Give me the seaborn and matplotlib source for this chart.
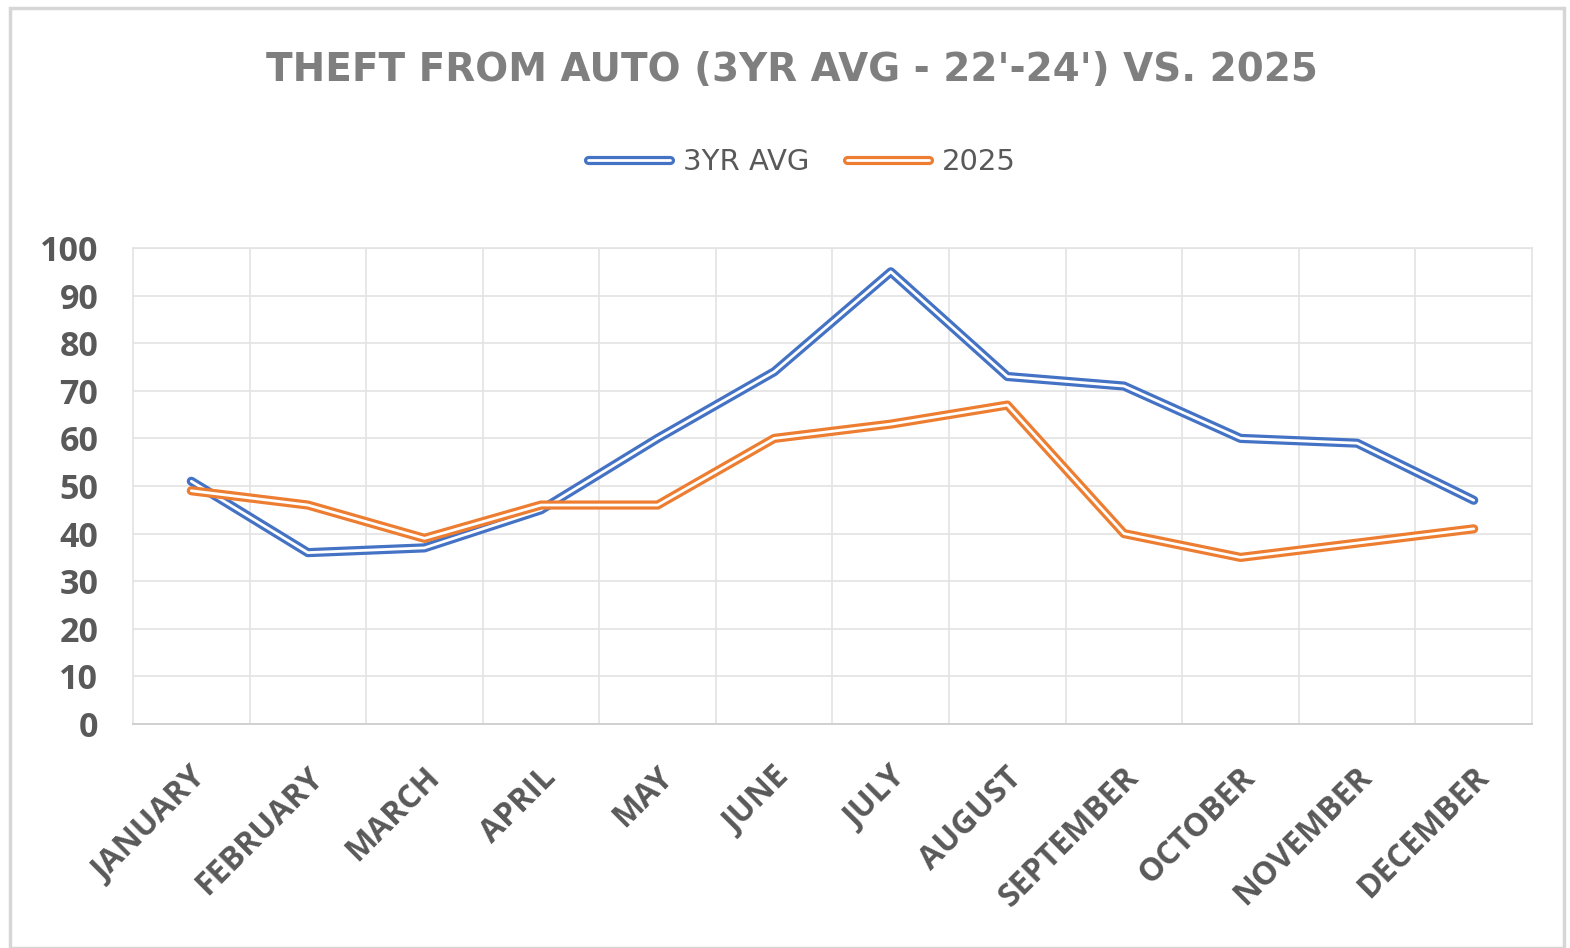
import matplotlib
matplotlib.use("Agg")
import matplotlib.pyplot as plt
import matplotlib.patheffects as pe
import matplotlib.patches as mpatches
import matplotlib.transforms as mtransforms
import seaborn as sns
import pandas as pd
import numpy as np

months = ["JANUARY", "FEBRUARY", "MARCH", "APRIL", "MAY", "JUNE", "JULY",
          "AUGUST", "SEPTEMBER", "OCTOBER", "NOVEMBER", "DECEMBER"]
avg_3yr = [51, 36, 37, 45, 60, 74, 95, 73, 71, 60, 59, 47]
y2025 = [49, 46, 39, 46, 46, 60, 63, 67, 40, 35, 38, 41]
series_names = ["3YR AVG", "2025"]
colors = {"3YR AVG": "#4472C4", "2025": "#ED7D31"}
yticks = [0, 10, 20, 30, 40, 50, 60, 70, 80, 90, 100]
title = "THEFT FROM AUTO (3YR AVG - 22'-24') VS. 2025"

df = pd.DataFrame({
    "month": months * 2,
    "idx": list(range(12)) * 2,
    "value": avg_3yr + y2025,
    "series": [series_names[0]] * 12 + [series_names[1]] * 12,
})

sns.set_theme(style="white")
plt.rcParams["font.family"] = ["Open Sans", "DejaVu Sans"]

W, H = 1570, 948
fig = plt.figure(figsize=(W / 100, H / 100), dpi=100)
ax = fig.add_axes([133 / W, 1 - 724 / H, (1532 - 133) / W, (724 - 248) / H])

for name in series_names:
    sub = df[df["series"] == name]
    sns.lineplot(data=sub, x="idx", y="value", ax=ax, color="white",
                 linewidth=2.0, label=name, sort=False,
                 path_effects=[pe.Stroke(linewidth=6.6, foreground=colors[name]), pe.Normal()])

ax.set_xlim(-0.5, 11.5)
ax.set_ylim(0, 100)
ax.set_yticks(yticks)
ax.set_xticks(range(12))
ax.set_xticklabels(months)
ax.set_xticks(np.arange(0.5, 11.5, 1), minor=True)
ax.grid(False)
ax.yaxis.grid(True, color="#e3e3e3", linewidth=1.2)
ax.xaxis.grid(True, which="minor", color="#e3e3e3", linewidth=1.2)
ax.set_axisbelow(True)
for s in ["top", "right", "left"]:
    ax.spines[s].set_color("#e3e3e3")
    ax.spines[s].set_linewidth(1.2)
ax.spines["bottom"].set_color("#d0d0d0")
ax.spines["bottom"].set_linewidth(1.4)
ax.set_xlabel("")
ax.set_ylabel("")

ax.tick_params(axis="y", length=0, pad=25, labelsize=24.5, labelcolor="#595959")
ax.tick_params(axis="x", which="both", length=0, pad=35, labelsize=23, labelcolor="#595959")
offset = mtransforms.ScaledTranslation(10 / 100, 0, fig.dpi_scale_trans)
for lab in ax.get_yticklabels():
    lab.set_fontweight("bold")
for lab in ax.get_xticklabels():
    lab.set_fontweight("bold")
    lab.set_rotation(45)
    lab.set_ha("right")
    lab.set_va("center")
    lab.set_rotation_mode("anchor")
    lab.set_transform(lab.get_transform() + offset)

ax.legend_.remove()
handles, labels = ax.get_legend_handles_labels()
leg = fig.legend(handles, labels, loc="center", bbox_to_anchor=(802 / W, 1 - 162 / H),
                 ncol=2, frameon=False, prop={"family": "DejaVu Sans", "size": 21},
                 handlelength=2.8, columnspacing=1.3, handletextpad=0.45)
for t in leg.get_texts():
    t.set_color("#595959")

fig.text(792 / W, 1 - 70 / H, title, ha="center", va="center",
         fontsize=28, fontweight="bold", color="#7f7f7f", family="DejaVu Sans")

fig.patches.append(mpatches.Rectangle((10 / W, 0), (1564 - 10) / W, 1 - 8 / H,
                                      transform=fig.transFigure, fill=False,
                                      edgecolor="#d6d6d6", linewidth=2.5))

fig.savefig("out.png", dpi=100)
